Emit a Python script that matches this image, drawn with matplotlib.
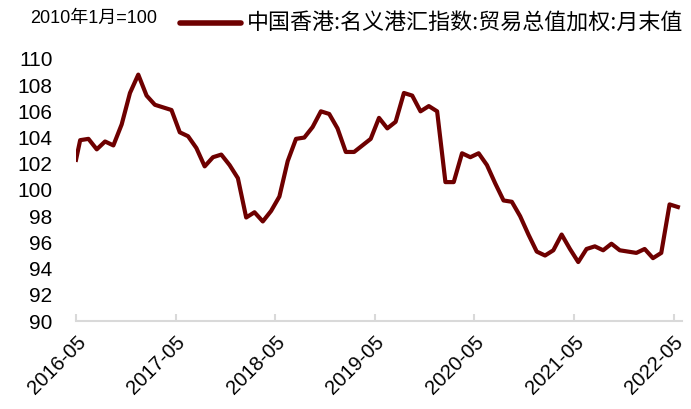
import numpy as np
import matplotlib
matplotlib.use("Agg")
import matplotlib.pyplot as plt
from matplotlib.lines import Line2D

plt.rcParams['font.family'] = ['Liberation Sans', 'Noto Sans CJK SC', 'DejaVu Sans']

# month offsets from 2016-05; first value sits on the axis start, the rest mid-month
months = [0.0] + [0.5 + i for i in range(73)]
values = [102.3,
          103.8, 103.9, 103.1, 103.7, 103.4, 105.0, 107.4, 108.8, 107.2, 106.5,
          106.3, 106.1, 104.4, 104.1, 103.2, 101.8, 102.5, 102.7, 101.9, 100.9,
          97.9, 98.3, 97.6, 98.4, 99.5, 102.2, 103.9, 104.0, 104.8, 106.0,
          105.8, 104.7, 102.9, 102.9, 103.4, 103.9, 105.5, 104.7, 105.2, 107.4,
          107.2, 106.0, 106.4, 106.0, 100.6, 100.6, 102.8, 102.5, 102.8, 101.9,
          100.5, 99.2, 99.1, 98.0, 96.6, 95.3, 95.0, 95.4, 96.6, 95.5,
          94.5, 95.5, 95.7, 95.4, 95.9, 95.4, 95.3, 95.2, 95.5, 94.8,
          95.2, 98.9, 98.7]
tick_pos = [0, 12, 24, 36, 48, 60, 72]
tick_labels = ['2016-05', '2017-05', '2018-05', '2019-05', '2020-05', '2021-05', '2022-05']
yticks = list(range(90, 111, 2))

series_name = '中国香港:名义港汇指数:贸易总值加权:月末值'
note = '2010年1月=100'
line_color = '#6E0000'

fig = plt.figure(figsize=(6.91, 4.09), dpi=100)
ax = fig.add_axes([0.110, 0.215, 0.877, 0.641])

ax.plot(months, values, color=line_color, lw=3.0, solid_joinstyle='round')

ax.set_xlim(0, 73)
ax.set_ylim(90, 110)
ax.set_yticks(yticks)
ax.set_xticks(tick_pos)
ax.set_xticklabels(tick_labels, rotation=45, ha='right', rotation_mode='anchor')

for s in ['top', 'right', 'left']:
    ax.spines[s].set_visible(False)
ax.spines['bottom'].set_color('#D9D9D9')
ax.spines['bottom'].set_linewidth(1.5)

ax.tick_params(axis='y', length=0, pad=17, labelsize=15)
ax.tick_params(axis='x', direction='in', length=5, width=1.5, color='#D9D9D9',
               pad=8, labelsize=14.5)

fig.text(0.043, 0.955, note, fontsize=13, va='center',
         family=['Liberation Sans', 'Noto Sans CJK SC'])
fig.add_artist(Line2D([180 / 691, 241 / 691], [1 - 23 / 409, 1 - 23 / 409],
                      color=line_color, lw=4, solid_capstyle='round'))
fig.text(247 / 691, 1 - 24 / 409, series_name, fontsize=15.8, va='center',
         family=['Noto Sans CJK SC', 'DejaVu Sans'])

fig.savefig('out.png', dpi=100)
